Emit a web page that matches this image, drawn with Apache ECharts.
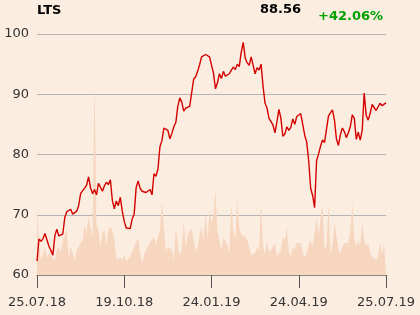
<!DOCTYPE html>
<html>
<head>
<meta charset="utf-8">
<script src="https://cdn.jsdelivr.net/npm/echarts@6/dist/echarts.min.js"></script>
<style>
html,body{margin:0;padding:0;background:#fcede1;}
#c{width:420px;height:315px;}
</style>
</head>
<body>
<div id="c"></div>
<script>
const tickLabels = ['25.07.18', '19.10.18', '24.01.19', '24.04.19', '25.07.19'];

const prices = [
62.3, 66.0, 65.6, 66.0, 66.9, 67.0, 64.8, 64.6, 63.3, 66.5,
67.6, 66.5, 66.4, 66.8, 69.5, 70.5, 70.4, 70.9, 70.1, 70.0,
70.6, 71.5, 73.5, 74.0, 74.4, 74.9, 76.3, 74.5, 73.5, 74.2,
73.3, 75.2, 74.9, 73.9, 74.8, 75.4, 75.0, 75.8, 72.4, 71.0,
72.3, 71.5, 72.9, 70.6, 68.9, 67.8, 68.0, 67.7, 69.3, 70.1,
74.5, 75.6, 74.4, 73.9, 74.1, 73.7, 74.0, 74.2, 73.3, 76.8,
76.4, 77.6, 81.3, 82.3, 84.4, 84.5, 84.0, 82.6, 83.5, 84.6,
85.3, 88.0, 89.4, 88.7, 87.2, 87.7, 87.9, 88.0, 88.1, 92.5,
92.9, 93.8, 94.9, 96.2, 96.5, 96.6, 96.4, 96.2, 96.2, 93.5,
90.9, 91.9, 93.4, 92.6, 93.8, 93.0, 92.7, 93.4, 94.0, 94.5,
94.1, 95.0, 94.6, 97.0, 98.6, 96.0, 95.2, 94.8, 96.2, 94.8,
93.4, 94.4, 94.0, 95.0, 91.3, 88.5, 87.7, 86.0, 85.8, 84.9,
83.6, 85.4, 87.5, 86.0, 83.0, 83.4, 84.6, 84.0, 84.5, 85.9,
85.0, 86.3, 86.6, 86.8, 85.0, 83.2, 82.1, 79.0, 74.4, 73.2,
71.2, 79.0, 80.1, 81.4, 82.4, 82.0, 82.0, 86.4, 86.9, 87.4,
85.7, 82.6, 81.5, 83.3, 84.4, 83.8, 82.8, 83.6, 84.6, 86.6,
86.0, 82.5, 83.7, 82.4, 84.0, 90.2, 86.5, 85.7, 86.8, 88.3,
88.5, 87.3, 87.0, 88.5, 88.1, 88.2, 88.56
];

const volumes = [
67, 30, 15, 20, 27, 18, 22, 20, 17, 14,
25, 28, 22, 35, 40, 45, 18, 28, 22, 13,
25, 28, 32, 35, 50, 42, 58, 48, 38, 197,
50, 45, 28, 42, 45, 30, 45, 48, 45, 35,
18, 15, 18, 15, 20, 14, 12, 18, 20, 28,
30, 37, 22, 12, 20, 25, 28, 33, 35, 38,
30, 28, 45, 74, 48, 22, 28, 28, 25, 15,
47, 30, 20, 25, 53, 28, 40, 42, 47, 35,
25, 28, 40, 48, 35, 63, 37, 65, 52, 60,
85, 45, 35, 25, 38, 38, 30, 22, 72, 45,
35, 75, 48, 40, 42, 38, 35, 28, 20, 18,
22, 28, 25, 72, 30, 20, 35, 22, 20, 28,
32, 18, 20, 25, 38, 35, 48, 25, 18, 28,
25, 32, 30, 32, 22, 18, 22, 30, 35, 28,
42, 58, 40, 38, 72, 25, 30, 72, 22, 30,
52, 40, 25, 22, 28, 32, 30, 32, 45, 72,
38, 28, 35, 30, 52, 35, 28, 32, 22, 18,
20, 15, 18, 33, 20, 32, 30
];

const categories = prices.map((_, i) => String(i));
const labelStep = (categories.length - 1) / (tickLabels.length - 1);

const chart = echarts.init(document.getElementById('c'), null, {renderer: 'canvas'});
chart.setOption({
  backgroundColor: '#fcede1',
  animation: false,
  textStyle: {fontFamily: 'DejaVu Sans'},
  title: [
    {text: 'LTS', left: 37, top: 4, padding: 0,
     textStyle: {fontSize: 13, fontWeight: 'bold', color: '#000', fontFamily: 'DejaVu Sans'}},
    {text: '88.56', left: 260, top: 3, padding: 0,
     textStyle: {fontSize: 13, fontWeight: 'bold', color: '#000', fontFamily: 'DejaVu Sans'}},
    {text: '+42.06%', left: 318, top: 10, padding: 0,
     textStyle: {fontSize: 13, fontWeight: 'bold', color: '#00a000', fontFamily: 'DejaVu Sans'}}
  ],
  grid: {left: 37, right: 34, top: 34, bottom: 40, containLabel: false},
  xAxis: {
    type: 'category',
    data: categories,
    boundaryGap: false,
    axisLine: {show: true, lineStyle: {color: '#888', width: 1}},
    axisTick: {show: true, interval: labelStep - 1, length: 13, lineStyle: {color: '#555'}},
    axisLabel: {
      interval: labelStep - 1, margin: 21, fontSize: 13, color: '#333', fontFamily: 'DejaVu Sans',
      formatter: (v, idx) => tickLabels[Math.round(idx / labelStep)]
    },
    splitLine: {show: false}
  },
  yAxis: [
    {
      type: 'value', min: 60, max: 100, interval: 10,
      axisLine: {show: false}, axisTick: {show: false},
      axisLabel: {fontSize: 13, color: '#333', margin: 8, fontFamily: 'DejaVu Sans'},
      splitLine: {show: true, lineStyle: {color: '#b4b4b4', width: 1}}
    },
    {
      type: 'value', min: 0, max: 241, show: false,
      splitLine: {show: false}
    }
  ],
  series: [
    {
      name: 'Volume', type: 'line', yAxisIndex: 1, data: volumes,
      showSymbol: false, smooth: false,
      lineStyle: {width: 0, color: '#f6d3ba'},
      itemStyle: {color: '#f6d3ba'},
      areaStyle: {color: '#f7d6bf', opacity: 1},
      z: 1
    },
    {
      name: 'LTS', type: 'line', data: prices,
      showSymbol: false, smooth: false,
      lineStyle: {width: 1.4, color: '#d40000'},
      itemStyle: {color: '#d40000'},
      z: 3
    }
  ]
});
</script>
</body>
</html>
